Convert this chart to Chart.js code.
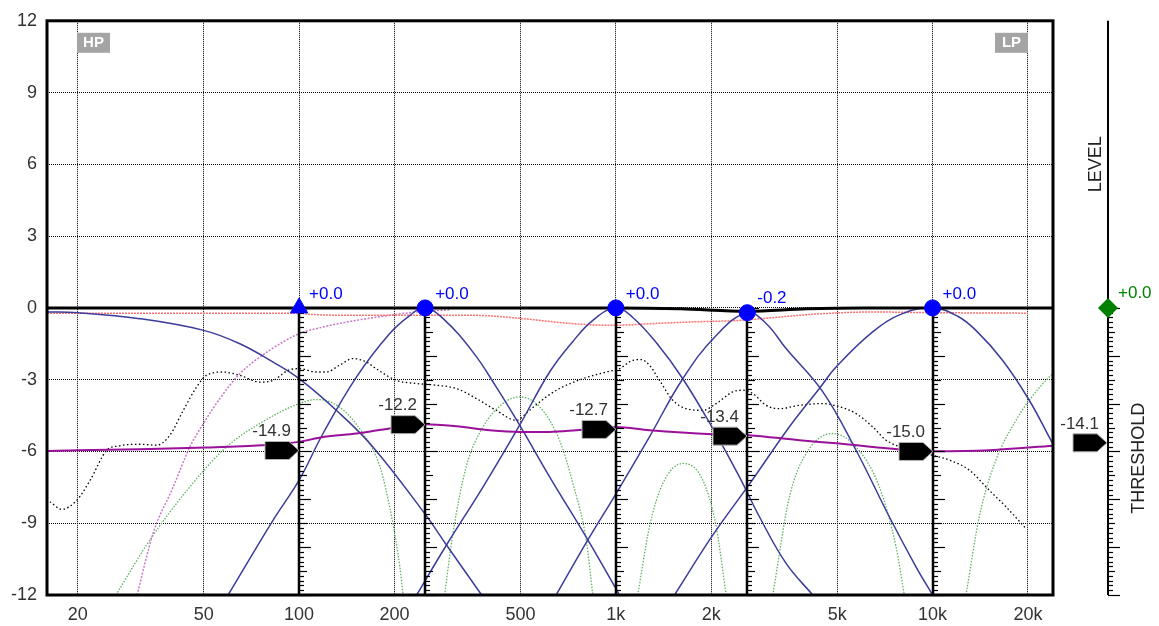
<!DOCTYPE html>
<html>
<head>
<meta charset="utf-8">
<title>Multiband dynamics</title>
<script src="https://cdn.jsdelivr.net/npm/chart.js@4.4.1/dist/chart.umd.min.js"></script>
<style>
  html, body { margin: 0; padding: 0; background: #fff; }
  #wrap { width: 1159px; height: 626px; }
</style>
</head>
<body>
<div id="wrap"><canvas id="eqChart" width="1159" height="626"></canvas></div>
<script>
// --- axis ticks ---
const xTicks = [20, 50, 100, 200, 500, 1000, 2000, 5000, 10000, 20000];
const xTickLabels = ['20', '50', '100', '200', '500', '1k', '2k', '5k', '10k', '20k'];

// --- bands (frequency, gain, threshold) ---
const bandFreq = [100, 250, 1000, 2600, 10000];
const bandGain = [0, 0, 0, -0.2, 0];
const bandGainLabels = ['+0.0', '+0.0', '+0.0', '-0.2', '+0.0'];
const bandShapes = ['triangle', 'circle', 'circle', 'circle', 'circle'];
const bandThreshold = [-14.9, -12.2, -12.7, -13.4, -15.0];
const bandThresholdLabels = ['-14.9', '-12.2', '-12.7', '-13.4', '-15.0'];
const masterLevel = 0;
const masterLevelLabel = '+0.0';
const masterThreshold = -14.1;
const masterThresholdLabel = '-14.1';

// --- curves [Hz, dB] ---
const totalResponse = [[16, 0], [1000, 0], [1600, -0.04], [2600, -0.15], [4000, -0.04], [6000, 0], [24000, 0]];
const redResponse = [[16, -0.22], [100, -0.22], [108, -0.27], [152, -0.31], [354, -0.31], [510, -0.45], [600, -0.55],
  [732, -0.66], [990, -0.73], [1277, -0.66], [1709, -0.59], [2456, -0.52], [3798, -0.31], [4499, -0.24],
  [6469, -0.17], [10000, -0.2], [20000, -0.22]];
const band1 = [[16, -0.17], [20, -0.2], [31.4, -0.45], [50, -0.94], [65, -1.5], [82.6, -2.26], [100, -2.96],
  [131, -4.28], [171, -5.81], [249, -8.59], [292, -9.91], [377, -12]];
const band2 = [[59.7, -12], [82.8, -8.87], [100, -7.2], [119, -5.25], [151.7, -2.89], [193, -1.08], [224, -0.31],
  [249, 0], [285, -0.45], [354, -1.85], [419, -3.3], [497, -4.9], [618, -7.06], [816, -9.7], [1027, -12]];
const band3 = [[235, -12], [292, -9.91], [381, -7.48], [497, -4.9], [618, -2.68], [732, -1.4], [846, -0.52],
  [1000, 0], [1131, -0.4], [1341, -1.45], [1627, -2.96], [2023, -5.04], [2456, -7.06], [2840, -8.73],
  [3448, -10.68], [4184, -12]];
const band4 = [[648, -12], [816, -9.7], [1003, -7.75], [1277, -5.39], [1627, -2.96], [2074, -1.15],
  [2600, -0.2], [2981, -0.65], [3448, -1.7], [4499, -3.5], [5733, -5.95], [7300, -8.73], [8864, -10.82],
  [10003, -12]];
const band5 = [[1532, -12], [2023, -9.5], [2627, -7.41], [3533, -4.97], [4392, -3.37], [4957, -2.47], [6469, -1.0],
  [8000, -0.25], [10000, 0], [12000, -0.35], [13706, -0.94], [16628, -2.19], [20190, -3.86], [23630, -5.53],
  [24000, -5.7]];
const highPass = [[30.8, -12], [34.6, -9.42], [40, -7.5], [45.2, -5.81], [49.9, -4.83], [56.2, -3.79], [65, -2.75],
  [80.8, -1.77], [100, -1.08], [119, -0.8], [151.7, -0.52], [193, -0.31], [235, -0.17], [300, -0.08]];
const green1 = [[26.4, -12], [33.8, -9.7], [45.2, -7.48], [59, -5.81], [75.2, -4.83], [100, -4.0], [113.5, -3.83],
  [134, -4.14], [159, -5.25], [180, -6.64], [196, -8.73], [208, -10.82], [213, -12]];
const green2 = [[288, -12], [306, -9.42], [337, -6.64], [381, -4.97], [440, -4.0], [497, -3.72], [575, -4.14],
  [664, -5.53], [732, -7.34], [806, -9.7], [846, -12]];
const green3 = [[1173, -12], [1277, -9.15], [1407, -7.34], [1627, -6.5], [1882, -7.2], [2074, -9.15], [2230, -12]];
const green4 = [[3129, -12], [3533, -7.9], [3987, -6.09], [4835, -5.25], [5733, -5.81], [6790, -7.48], [7666, -9.98],
  [8142, -12]];
const green5 = [[12750, -12], [14042, -8.73], [15850, -6.36], [18335, -4.7], [20190, -3.86], [23340, -2.89],
  [24000, -2.75]];
const spectrum = [[16.35, -8.1], [17.8, -8.42], [19.9, -8.03], [21.9, -7.2], [24.7, -5.95], [26.9, -5.77], [31.4, -5.7],
  [35.5, -5.74], [39.1, -5.32], [43.1, -4.28], [47.5, -3.3], [51, -2.82], [57.6, -2.68], [65, -2.82], [75.2, -3.1],
  [82.8, -3.03], [92.3, -2.61], [100, -2.54], [113.5, -2.68], [122, -2.68], [134, -2.4], [148, -2.12], [163, -2.26],
  [175, -2.54], [203, -3.03], [235, -3.16], [271, -3.23], [314, -3.37], [363, -3.79], [419, -4.28], [485, -4.7],
  [534, -4.28], [603, -3.72], [664, -3.37], [787, -2.96], [933, -2.68], [1027, -2.54], [1131, -2.19], [1203, -2.16],
  [1277, -2.4], [1374, -3.03], [1513, -3.86], [1667, -4.21], [1882, -4.28], [2074, -4.0], [2339, -3.51],
  [2515, -3.44], [2706, -3.58], [2981, -4.07], [3285, -4.21], [3798, -4.07], [4499, -4.0], [5016, -4.11],
  [5733, -4.42], [6469, -4.97], [7130, -5.53], [8300, -5.9], [10003, -6.16], [11295, -6.36], [13054, -6.78],
  [15098, -7.62], [17040, -8.31], [19710, -9.22]];
// threshold curve, read on the threshold scale
const thresholdCurve = [[16, -14.94], [31.4, -14.77], [51, -14.59], [76.1, -14.35], [100, -14.0], [119, -13.48],
  [152, -13.13], [193, -12.6], [249, -12.16], [314, -12.37], [400, -12.78], [497, -12.96], [618, -12.96],
  [750, -12.78], [1000, -12.44], [1277, -12.78], [2019, -13.2], [2627, -13.3], [3798, -13.83], [5079, -14.17],
  [7300, -14.69], [10000, -14.97], [15098, -14.87], [24000, -14.4]];

const FONT = "'Liberation Sans', Arial, Helvetica, sans-serif";
const MARK_BLUE = '#0000ff';
const BAND_BLUE = '#3c3c9c';
const GREEN_DOT = '#5eb45e';
const TEXT_GRAY = '#333333';

function curve(label, pairs, color, width, dash, order, axis, smooth) {
    const ds = {
        label: label,
        data: pairs.map(p => ({ x: p[0], y: p[1] })),
        borderColor: color,
        borderWidth: width,
        borderDash: dash,
        pointRadius: 0,
        fill: false,
        order: order,
        yAxisID: axis || 'y'
    };
    if (smooth) {
        ds.tension = 0.4;            // plain bezier keeps the band peaks round
    } else {
        ds.cubicInterpolationMode = 'monotone';
    }
    return ds;
}

const datasets = [
    {
        label: 'markers',
        type: 'line',
        showLine: false,
        data: bandFreq.map((f, i) => ({ x: f, y: bandGain[i] })),
        pointStyle: bandShapes,
        pointRadius: [10, 8, 8, 8, 8],
        backgroundColor: MARK_BLUE,
        borderColor: MARK_BLUE,
        borderWidth: 1,
        order: 0
    },
    curve('total', totalResponse, '#000000', 3, [], 1),
    curve('threshold', thresholdCurve, '#9a109a', 2, [], 2, 'thr'),
    curve('band1', band1, BAND_BLUE, 1.5, [], 3, 'y', true),
    curve('band2', band2, BAND_BLUE, 1.5, [], 3, 'y', true),
    curve('band3', band3, BAND_BLUE, 1.5, [], 3, 'y', true),
    curve('band4', band4, BAND_BLUE, 1.5, [], 3, 'y', true),
    curve('band5', band5, BAND_BLUE, 1.5, [], 3, 'y', true),
    curve('red', redResponse, '#ff7070', 1.5, [2, 1], 4),
    curve('hp', highPass, '#c878c8', 1.5, [2, 1.5], 5),
    curve('g1', green1, GREEN_DOT, 1.3, [1.5, 1.5], 6),
    curve('g2', green2, GREEN_DOT, 1.3, [1.5, 1.5], 6),
    curve('g3', green3, GREEN_DOT, 1.3, [1.5, 1.5], 6),
    curve('g4', green4, GREEN_DOT, 1.3, [1.5, 1.5], 6),
    curve('g5', green5, GREEN_DOT, 1.3, [1.5, 1.5], 6),
    curve('spectrum', spectrum, '#000000', 1.3, [1.5, 2.5], 7)
];

// --- drawing helpers ---
function drawPentagon(ctx, tipX, tipY) {
    ctx.beginPath();
    ctx.moveTo(tipX, tipY);
    ctx.lineTo(tipX - 10, tipY - 9);
    ctx.lineTo(tipX - 34, tipY - 9);
    ctx.lineTo(tipX - 34, tipY + 9);
    ctx.lineTo(tipX - 10, tipY + 9);
    ctx.closePath();
    ctx.fillStyle = '#000';
    ctx.fill();
    ctx.strokeStyle = '#b4b4b4';
    ctx.lineWidth = 1;
    ctx.stroke();
}

function drawRuler(ctx, x, thr, lineWidth, lens) {
    const top = thr.getPixelForValue(0);
    const bottom = thr.getPixelForValue(-30);
    ctx.strokeStyle = '#000';
    ctx.lineWidth = lineWidth;
    ctx.beginPath();
    ctx.moveTo(x, top);
    ctx.lineTo(x, bottom);
    ctx.stroke();
    ctx.lineWidth = 1.2;
    for (let v = 0; v >= -30; v -= 0.5) {
        const y = Math.round(thr.getPixelForValue(v)) + 0.5;
        const len = v % 5 === 0 ? lens[0] : (v % 2.5 === 0 ? lens[1] : lens[2]);
        ctx.beginPath();
        ctx.moveTo(x, y);
        ctx.lineTo(x + len, y);
        ctx.stroke();
    }
}

function drawBadge(ctx, text, left, top) {
    ctx.fillStyle = '#a4a4a4';
    ctx.fillRect(left, top, 33, 20);
    ctx.fillStyle = '#fff';
    ctx.font = 'bold 15px ' + FONT;
    ctx.textAlign = 'center';
    ctx.textBaseline = 'middle';
    ctx.fillText(text, left + 16.5, top + 10.5);
}

const overlayPlugin = {
    id: 'overlay',
    beforeDatasetDraw(chart, args) {
        if (args.index !== 0) return;
        const ctx = chart.ctx;
        const area = chart.chartArea;
        const x = chart.scales.x;
        const thr = chart.scales.thr;
        ctx.save();
        // frame
        ctx.strokeStyle = '#000';
        ctx.lineWidth = 3;
        ctx.strokeRect(area.left, area.top, area.right - area.left, area.bottom - area.top);
        // band rulers and threshold markers
        bandFreq.forEach(f => {
            const px = Math.round(x.getPixelForValue(f));
            drawRuler(ctx, px, thr, 2.5, [12, 8, 5]);
        });
        ctx.font = '17px ' + FONT;
        ctx.textAlign = 'right';
        ctx.textBaseline = 'middle';
        bandFreq.forEach((f, i) => {
            const tipX = Math.round(x.getPixelForValue(f));
            const tipY = thr.getPixelForValue(bandThreshold[i]);
            drawPentagon(ctx, tipX, tipY);
            ctx.fillStyle = TEXT_GRAY;
            ctx.fillText(bandThresholdLabels[i], tipX - 8, tipY - 19);
        });
        ctx.restore();
    },
    afterDatasetsDraw(chart) {
        const ctx = chart.ctx;
        const area = chart.chartArea;
        const x = chart.scales.x;
        const thr = chart.scales.thr;
        ctx.save();
        // gain labels
        const meta = chart.getDatasetMeta(0);
        ctx.font = '17px ' + FONT;
        ctx.textAlign = 'left';
        ctx.textBaseline = 'middle';
        ctx.fillStyle = MARK_BLUE;
        meta.data.forEach((pt, i) => {
            ctx.fillText(bandGainLabels[i], pt.x + 10, pt.y - 14);
        });
        // HP / LP badges
        drawBadge(ctx, 'HP', Math.round(x.getPixelForValue(20)) - 1, area.top + 12);
        drawBadge(ctx, 'LP', Math.round(x.getPixelForValue(20000)) - 33, area.top + 12);

        // right panel: level + threshold
        const panelX = area.right + 55;
        ctx.strokeStyle = '#000';
        ctx.lineWidth = 2;
        ctx.beginPath();
        ctx.moveTo(panelX, area.top);
        ctx.lineTo(panelX, area.bottom);
        ctx.stroke();
        drawRuler(ctx, panelX, thr, 2, [12, 7, 5]);

        ctx.fillStyle = '#222';
        ctx.font = '18px ' + FONT;
        ctx.textAlign = 'center';
        ctx.textBaseline = 'middle';
        ctx.save();
        ctx.translate(panelX - 12, thr.getPixelForValue(15));
        ctx.rotate(-Math.PI / 2);
        ctx.fillText('LEVEL', 0, 0);
        ctx.restore();
        ctx.save();
        ctx.translate(panelX + 31, thr.getPixelForValue(-15.7));
        ctx.rotate(-Math.PI / 2);
        ctx.fillText('THRESHOLD', 0, 0);
        ctx.restore();

        // master threshold marker
        const mtY = thr.getPixelForValue(masterThreshold);
        drawPentagon(ctx, panelX - 1, mtY);
        ctx.font = '17px ' + FONT;
        ctx.textAlign = 'right';
        ctx.fillStyle = TEXT_GRAY;
        ctx.fillText(masterThresholdLabel, panelX - 9, mtY - 19);

        // master level diamond
        const lvY = thr.getPixelForValue(masterLevel);
        ctx.beginPath();
        ctx.moveTo(panelX, lvY - 10);
        ctx.lineTo(panelX + 10, lvY);
        ctx.lineTo(panelX, lvY + 10);
        ctx.lineTo(panelX - 10, lvY);
        ctx.closePath();
        ctx.fillStyle = '#008000';
        ctx.fill();
        ctx.textAlign = 'left';
        ctx.fillText(masterLevelLabel, panelX + 10, lvY - 15);
        ctx.restore();
    }
};

new Chart(document.getElementById('eqChart').getContext('2d'), {
    type: 'line',
    data: { datasets: datasets },
    options: {
        responsive: false,
        animation: false,
        events: [],
        layout: { padding: { top: 20, right: 106, left: 0, bottom: 0 } },
        plugins: { legend: { display: false }, tooltip: { enabled: false } },
        scales: {
            x: {
                type: 'logarithmic',
                min: 16,
                max: 24000,
                afterBuildTicks: axis => { axis.ticks = xTicks.map(v => ({ value: v })); },
                afterFit: axis => { axis.height = 31; },
                ticks: {
                    autoSkip: false,
                    maxRotation: 0,
                    padding: 9,
                    color: TEXT_GRAY,
                    font: { family: FONT, size: 18 },
                    callback: (value, index) => xTickLabels[index]
                },
                grid: { color: '#000', lineWidth: 1, drawTicks: false },
                border: { display: false, dash: [1, 1] }
            },
            y: {
                min: -12,
                max: 12,
                afterFit: axis => { axis.width = 47; },
                ticks: {
                    stepSize: 3,
                    padding: 10,
                    color: TEXT_GRAY,
                    font: { family: FONT, size: 18 }
                },
                grid: { color: '#000', lineWidth: 1, drawTicks: false },
                border: { display: false, dash: [1, 1] }
            },
            thr: {
                display: false,
                min: -30,
                max: 30
            }
        }
    },
    plugins: [overlayPlugin]
});
</script>
</body>
</html>
